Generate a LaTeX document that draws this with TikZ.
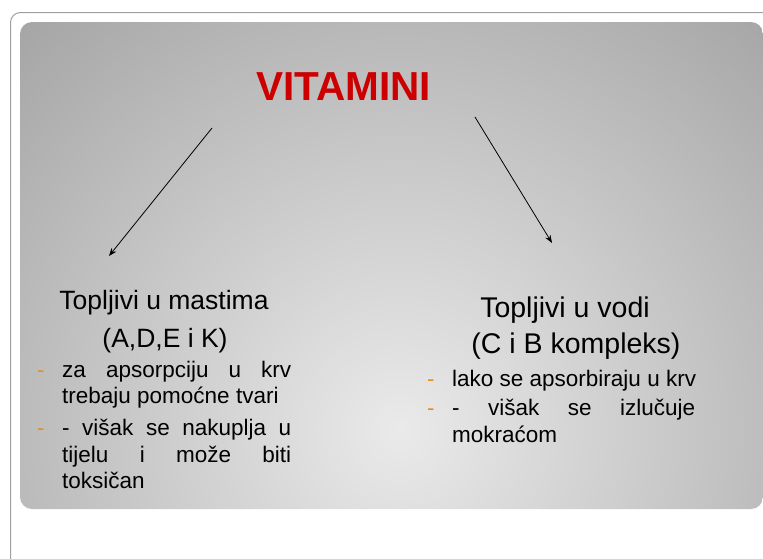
\documentclass[tikz,border=0pt]{standalone}
\usepackage{fontspec}
\setmainfont{Liberation Sans}
\usetikzlibrary{arrows.meta}
\definecolor{vred}{RGB}{204,0,0}
\definecolor{dashor}{RGB}{232,140,40}
\definecolor{framegray}{RGB}{160,160,160}
\definecolor{panelout}{RGB}{160,160,160}
\definecolor{panelin}{RGB}{234,234,234}
\tikzset{
  arr/.style={-{Stealth[length=8pt,width=6pt]}, line width=0.8pt, black},
  head/.style={anchor=base, inner sep=0pt, font=\fontsize{26.5}{30}\selectfont},
  headr/.style={anchor=base, inner sep=0pt, font=\fontsize{28.5}{32}\selectfont},
  txt/.style={anchor=base west, inner sep=0pt, font=\fontsize{22.5}{26}\selectfont},
  dsh/.style={anchor=base west, inner sep=0pt, font=\fontsize{22}{26}\selectfont, text=dashor},
  ttl/.style={anchor=base, inner sep=0pt, font=\bfseries\fontsize{40.5}{46}\selectfont}
}
\begin{document}
\begin{tikzpicture}[x=1pt,y=-1pt]
\useasboundingbox (0,0) rectangle (763,558);
\fill[white] (0,0) rectangle (763,558);
\begin{scope}
\clip (0,0) rectangle (763,558);
\draw[framegray, line width=1pt, rounded corners=10pt] (10.5,12.5) rectangle (830,620);
\end{scope}
\begin{scope}
\clip[rounded corners=12pt] (20,22) rectangle (763,509);
\shade[inner color=panelin, outer color=panelout] (400,430) circle (600);
\end{scope}

% title
\node[ttl, text=vred] (title) at (343.5,100) {VITAMINI};

% arrows
\coordinate (la0) at (212,128);
\coordinate (la1) at (109,256);
\coordinate (ra0) at (475,117);
\coordinate (ra1) at (552,243);
\draw[arr] (la0) -- (la1);
\draw[arr] (ra0) -- (ra1);

% left column
\node[head] (lh1) at (164,309) {Topljivi u mastima};
\node[head] (lh2) at (165,347) {(A,D,E i K)};
\node[dsh] (ld1) at (37,377) {-};
\node[txt] (l1) at (62,377) {\makebox[229pt][s]{za apsorpciju u krv}};
\node[txt] (l2) at (62,403) {trebaju pomoćne tvari};
\node[dsh] (ld2) at (37,435) {-};
\node[txt] (l3) at (62,435) {\makebox[229pt][s]{- višak se nakuplja u}};
\node[txt] (l4) at (62,462) {\makebox[229pt][s]{tijelu i može biti}};
\node[txt] (l5) at (62,488) {toksičan};

% right column
\node[headr] (rh1) at (565,317) {Topljivi u vodi};
\node[headr] (rh2) at (576,353) {(C i B kompleks)};
\node[dsh] (rd1) at (427,386) {-};
\node[txt] (r1) at (452,386) {lako se apsorbiraju u krv};
\node[dsh] (rd2) at (427,415) {-};
\node[txt] (r2) at (452,415) {\makebox[243pt][s]{- višak se izlučuje}};
\node[txt] (r3) at (452,442) {mokraćom};
\end{tikzpicture}
\end{document}
